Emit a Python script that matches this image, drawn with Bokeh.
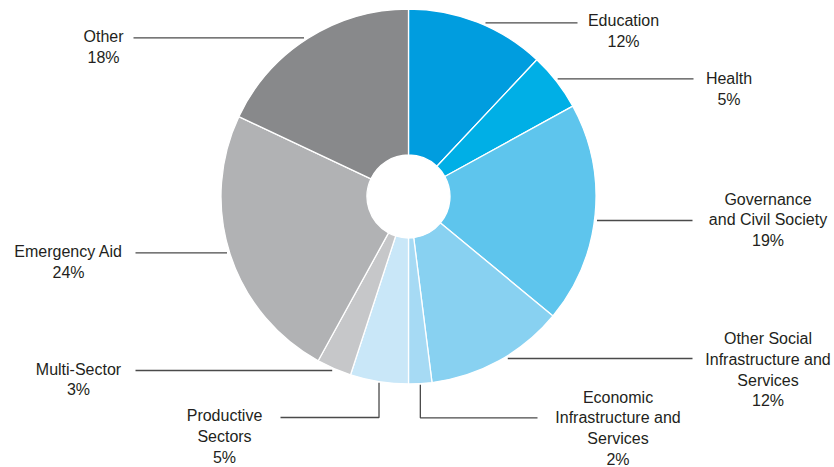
import math
from bokeh.plotting import figure
from bokeh.models import Range1d, ColumnDataSource
from bokeh.embed import file_html
from bokeh.resources import INLINE
from bokeh.core.properties import value

# ---------------- data ----------------
sectors = ["Education", "Health", "Governance and Civil Society",
           "Other Social Infrastructure and Services",
           "Economic Infrastructure and Services", "Productive Sectors",
           "Multi-Sector", "Emergency Aid", "Other"]
shares = [12, 5, 19, 12, 2, 5, 3, 24, 18]
label_lines = [["Education"], ["Health"], ["Governance", "and Civil Society"],
               ["Other Social", "Infrastructure and", "Services"],
               ["Economic", "Infrastructure and", "Services"],
               ["Productive", "Sectors"], ["Multi-Sector"], ["Emergency Aid"], ["Other"]]
colors = ["#009ddf", "#00afe6", "#5ec5ed", "#88d1f1", "#a6daf4", "#c9e7f8",
          "#c6c7c9", "#b1b2b4", "#88898b"]

# ---------------- layout (screen pixels) ----------------
W, H = 834, 467
CX, CY = 408, 196          # pie centre (screen px)
R_OUT, R_IN = 187.5, 41.5
# kind, leader y (or elbow y), leader end x, text centre x, first-line centre y
label_layout = [
    ("h", 22.3, 577, 623, 20.3),
    ("h", 78.3, 693, 728.5, 78),
    ("h", 220, 692, 767.5, 198.6),
    ("h", 358, 692, 767.5, 338),
    ("v", 417.3, 537, 617.5, 396.5),
    ("v", 417, 280, 224, 415),
    ("h", 370, 135, 78, 368.5),
    ("h", 252.3, 135, 68, 251),
    ("h", 37.3, 133, 103, 36.3),
]
LINE_GAP = 20.8


def dy(py):
    return H - py  # screen y -> data y


p = figure(width=W, height=H, output_backend="svg", toolbar_location=None,
           x_range=Range1d(0, W), y_range=Range1d(0, H),
           min_border=0, background_fill_color="white", border_fill_color="white")
p.axis.visible = False
p.grid.visible = False
p.outline_line_color = None

total = float(sum(shares))
starts, ends, mids = [], [], []
cum = 0.0
for s in shares:
    c0 = cum / total
    cum += s
    c1 = cum / total
    starts.append(math.pi / 2 - 2 * math.pi * c1)
    ends.append(math.pi / 2 - 2 * math.pi * c0)
    mids.append(2 * math.pi * (c0 + c1) / 2)   # clockwise from top

src = ColumnDataSource(dict(sector=sectors, share=shares, start=starts, end=ends, color=colors))
p.annular_wedge(x=CX, y=dy(CY), inner_radius=R_IN, outer_radius=R_OUT,
                start_angle="start", end_angle="end", fill_color="color",
                line_color="white", line_width=1.3, source=src)

# leaders and labels
xs, ys = [], []
tx, ty, tt = [], [], []
for i, (kind, ly, ex, tcx, ty0) in enumerate(label_layout):
    a = mids[i]
    side = 1 if math.sin(a) > 0 else -1
    if kind == "h":
        d = ly - CY
        sx = CX + side * math.sqrt((R_OUT + 2.5) ** 2 - d * d)
        xs.append([sx, ex])
        ys.append([dy(ly), dy(ly)])
    else:
        sx = CX + (R_OUT + 1) * math.sin(a)
        sy = CY - (R_OUT + 1) * math.cos(a)
        xs.append([sx, sx, ex])
        ys.append([dy(sy), dy(ly), dy(ly)])
    lines = label_lines[i] + ["%d%%" % shares[i]]
    for k, t in enumerate(lines):
        tx.append(tcx)
        ty.append(dy(ty0 + k * LINE_GAP))
        tt.append(t)

p.multi_line(xs=xs, ys=ys, line_color="#4a4a4a", line_width=1.3)
p.text(x=tx, y=ty, text=tt, text_align="center", text_baseline="middle",
       text_font=value("Liberation Sans"), text_font_size="16px", text_color="#231f20")

open("out.html", "w").write(file_html(p, INLINE))
